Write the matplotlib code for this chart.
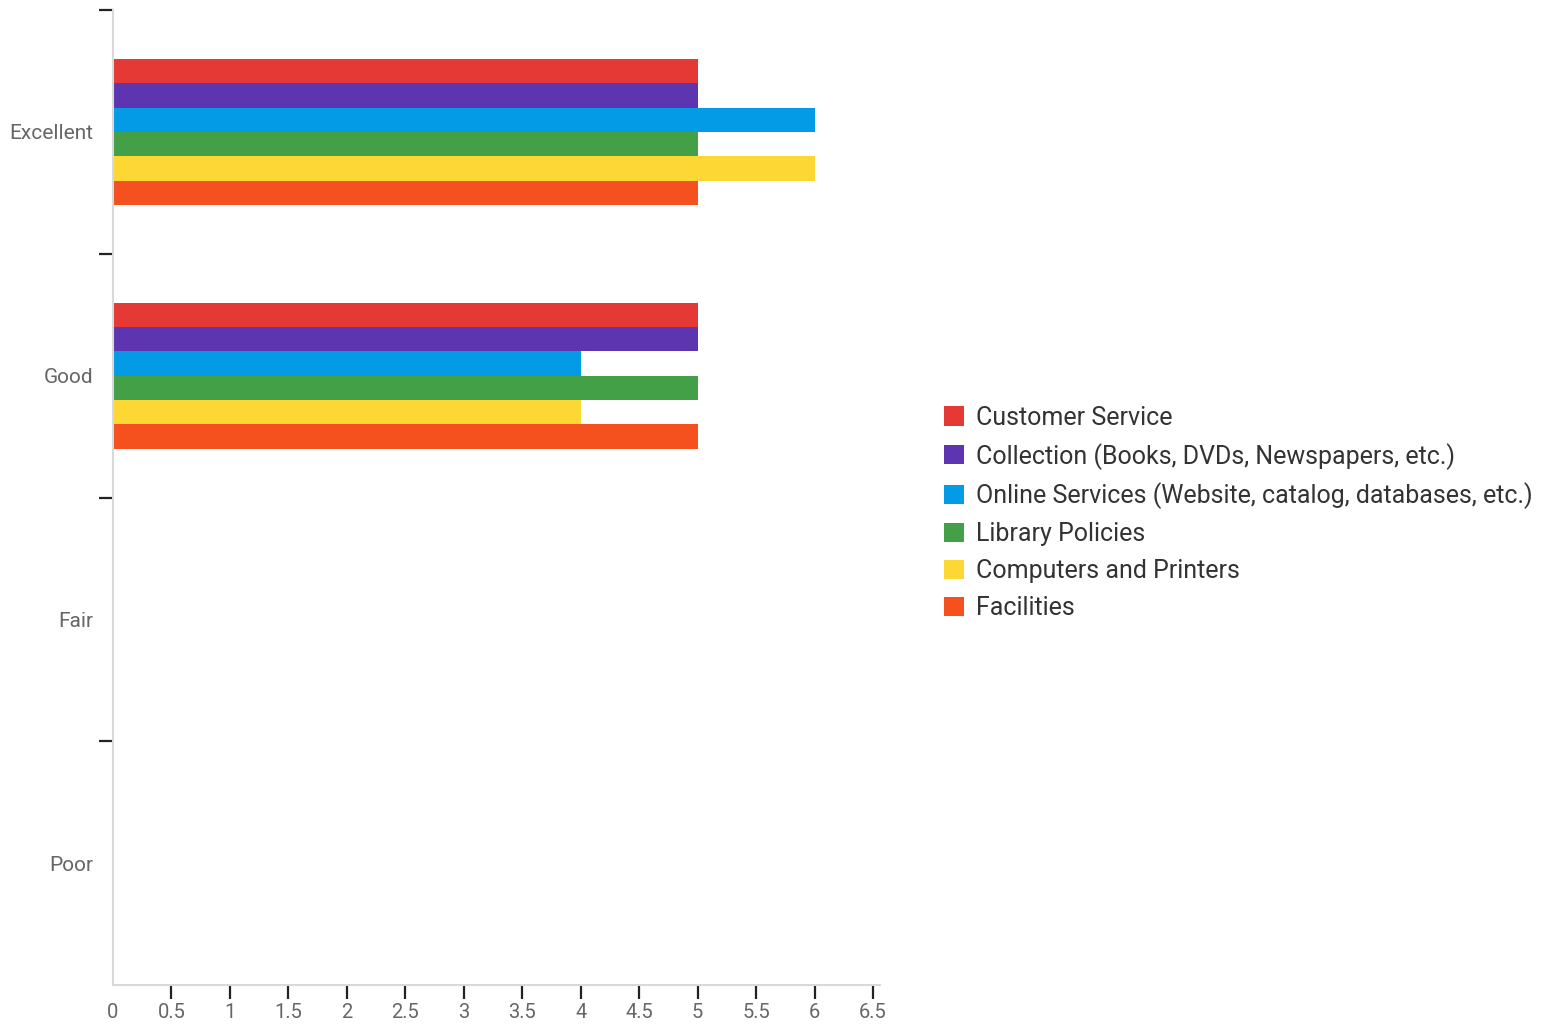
import matplotlib
matplotlib.use("Agg")
import matplotlib.pyplot as plt
from matplotlib.patches import Patch
import numpy as np

categories = ["Excellent", "Good", "Fair", "Poor"]
series_names = [
    "Customer Service",
    "Collection (Books, DVDs, Newspapers, etc.)",
    "Online Services (Website, catalog, databases, etc.)",
    "Library Policies",
    "Computers and Printers",
    "Facilities",
]
customer_service = [5, 5, 0, 0]
collection = [5, 5, 0, 0]
online_services = [6, 4, 0, 0]
library_policies = [5, 5, 0, 0]
computers_printers = [6, 4, 0, 0]
facilities = [5, 5, 0, 0]
x_ticks = [0, 0.5, 1, 1.5, 2, 2.5, 3, 3.5, 4, 4.5, 5, 5.5, 6, 6.5]
x_tick_labels = ["0", "0.5", "1", "1.5", "2", "2.5", "3", "3.5", "4", "4.5",
                 "5", "5.5", "6", "6.5"]

series_values = [customer_service, collection, online_services,
                 library_policies, computers_printers, facilities]
colors = ["#E53935", "#5E35B1", "#039BE5", "#43A047", "#FDD835", "#F4511E"]

plt.rcParams["font.family"] = ["Roboto", "DejaVu Sans"]

fig = plt.figure(figsize=(15.54, 10.25), dpi=100)
ax = fig.add_axes([113 / 1554, 40 / 1025, 767 / 1554, 975 / 1025])

ypos = np.arange(len(categories))
bar_h = 0.1
n = len(series_values)
for i, (vals, col) in enumerate(zip(series_values, colors)):
    offset = (i - (n - 1) / 2) * bar_h
    ax.barh(ypos + offset, vals, height=bar_h, color=col, linewidth=0)

ax.set_ylim(len(categories) - 0.5, -0.5)
ax.set_xlim(0, 6.56)

# category boundaries carry the tick marks, centers carry the labels
ax.set_yticks(np.arange(-0.5, len(categories) - 0.5, 1.0))
ax.set_yticklabels([])
ax.set_yticks(ypos, minor=True)
ax.set_yticklabels(categories, minor=True)
ax.tick_params(axis="y", which="major", length=10, width=1.6, color="#222222",
               direction="out")
ax.tick_params(axis="y", which="minor", length=0, pad=14, labelsize=15,
               labelcolor="#666666")

ax.set_xticks(x_ticks)
ax.set_xticklabels(x_tick_labels, fontfamily=["Liberation Sans Narrow", "Roboto"])
ax.tick_params(axis="x", length=10, width=1.6, color="#222222", pad=3,
               labelsize=14.5, labelcolor="#666666")
ax.xaxis.get_major_ticks()[0].tick1line.set_visible(False)

for side in ["top", "right"]:
    ax.spines[side].set_visible(False)
for side in ["left", "bottom"]:
    ax.spines[side].set_color("#d9d9d9")
    ax.spines[side].set_linewidth(1.5)

handles = [Patch(facecolor=c, edgecolor="none") for c in colors]
fig.legend(handles, series_names, loc="center left",
           bbox_to_anchor=(924 / 1554, 1 - 513 / 1025), frameon=False,
           fontsize=18, handlelength=0.8, handleheight=0.8, handletextpad=0.5,
           labelspacing=0.52, labelcolor="#333333", borderpad=0.3)

fig.savefig("out.png", dpi=100, facecolor="white")
